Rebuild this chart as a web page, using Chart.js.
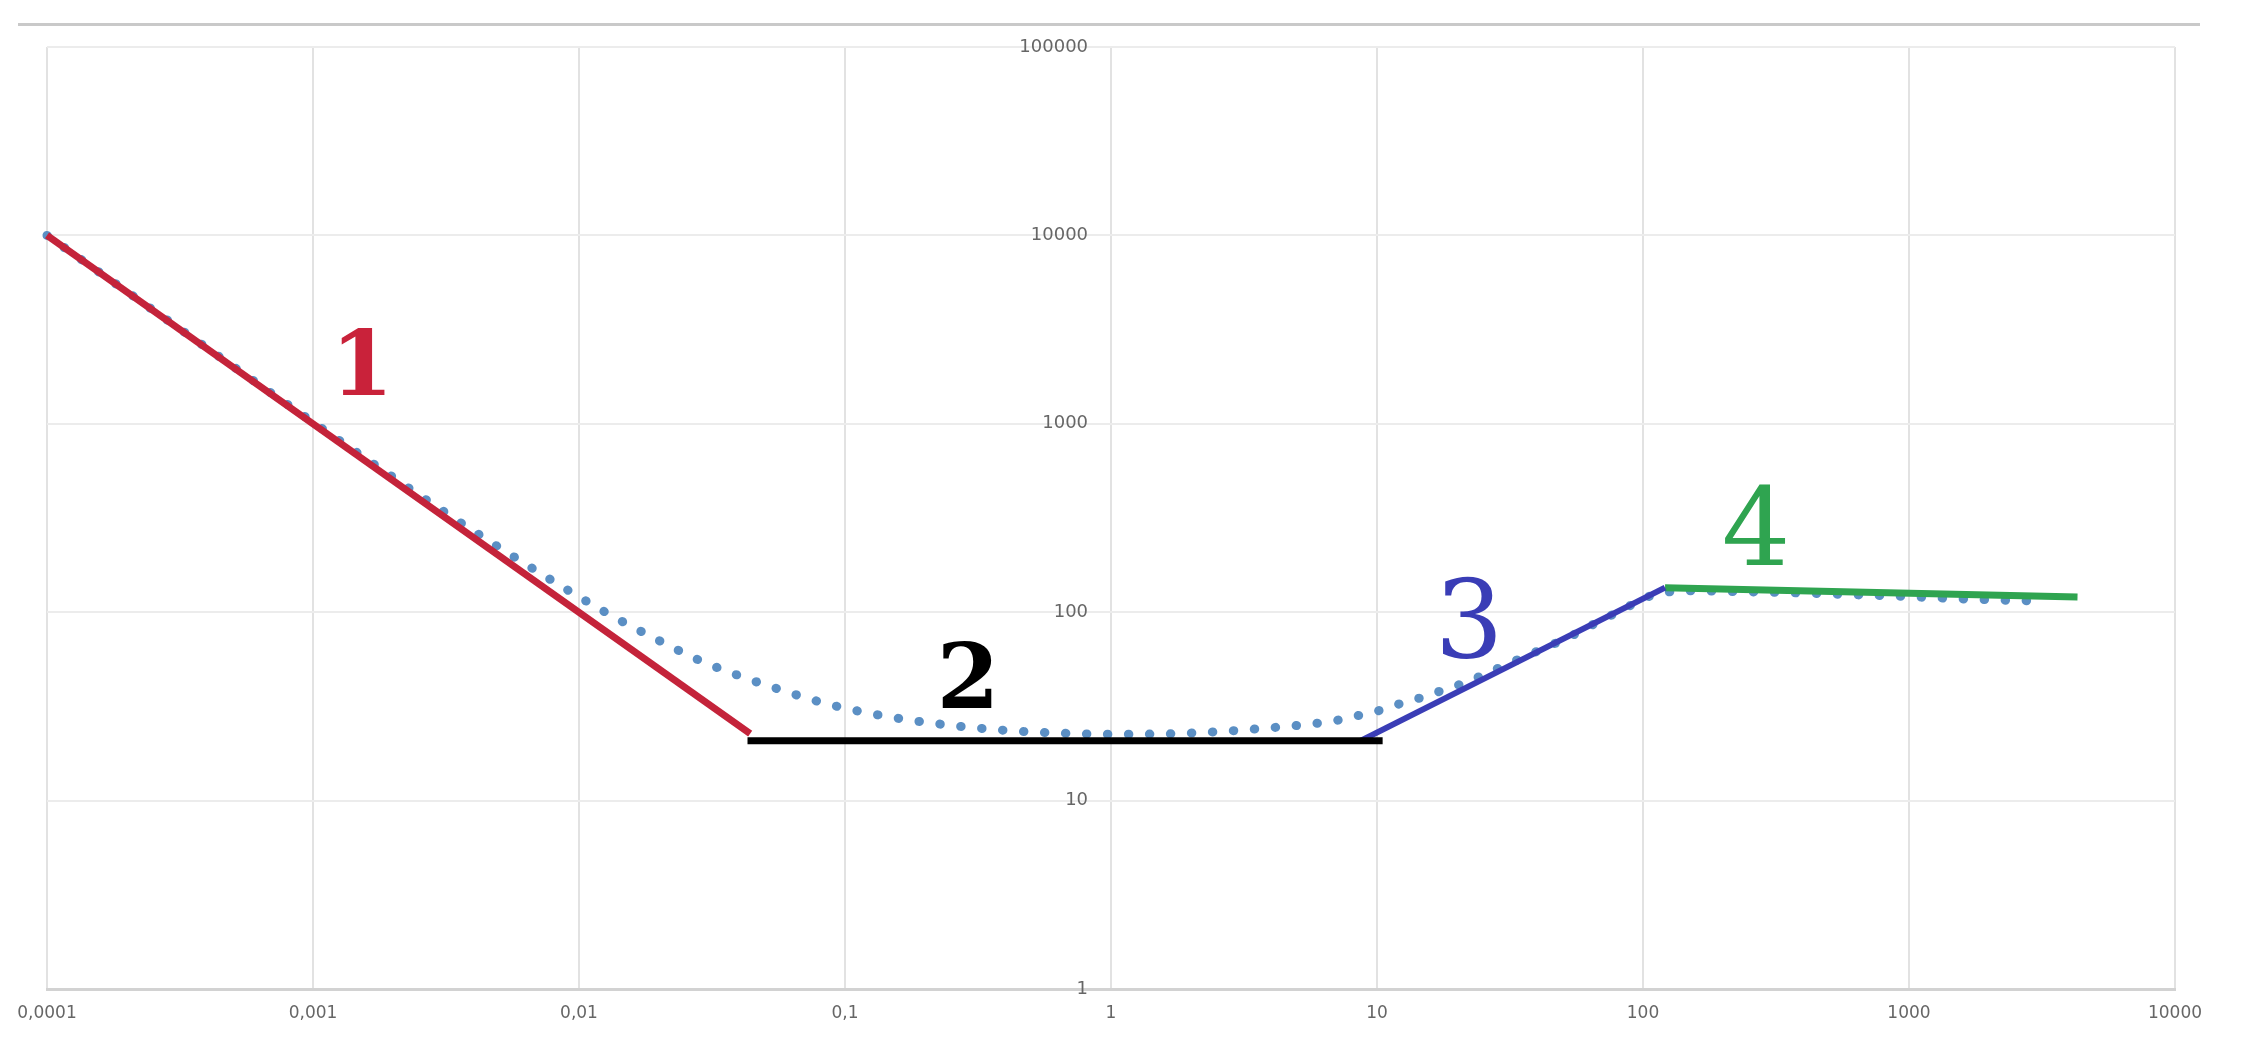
<!DOCTYPE html>
<html>
<head>
<meta charset="utf-8">
<script src="https://cdn.jsdelivr.net/npm/chart.js"></script>
<style>
  html, body { margin: 0; padding: 0; background: #ffffff; }
  #wrap { position: relative; width: 2255px; height: 1057px; }
  #rule { position: absolute; left: 18px; top: 23px; width: 2182px; height: 3px; background: #c9c9c9; }
  canvas { position: absolute; left: 0; top: 0; }
</style>
</head>
<body>
<div id="wrap">
  <canvas id="c" width="2255" height="1057"></canvas>
  <div id="rule"></div>
</div>
<script>
// ---- tick values and labels ----
const xTickValues = [0.0001, 0.001, 0.01, 0.1, 1, 10, 100, 1000, 10000];
const xTickLabels = ['0,0001', '0,001', '0,01', '0,1', '1', '10', '100', '1000', '10000'];
const yTickValues = [1, 10, 100, 1000, 10000, 100000];
const yTickLabels = ['1', '10', '100', '1000', '10000', '100000'];

// ---- series ----
const redX = [0.0001, 0.044];
const redY = [10000, 22.7];
const blackX = [0.043, 10.5];
const blackY = [20.8, 20.8];
const blueX = [8.7, 121];
const blueY = [20.8, 135];
const greenX = [121, 4300];
const greenY = [135, 120.5];
const dotX = [0.0001, 0.0002, 0.0005, 0.001, 0.002, 0.003, 0.0045, 0.0065, 0.0095, 0.0134, 0.0195, 0.028, 0.04, 0.058, 0.083, 0.12, 0.18, 0.27, 0.4, 0.6, 1, 1.6, 2.5, 3.5, 5.5, 7, 8, 9.75, 11.6, 13.9, 16.5, 19.8, 23.6, 30, 40, 55, 70, 85, 100, 120, 150, 200, 350, 600, 1000, 1500, 2200, 2900];
const dotY = [10000, 5020, 2020, 1020, 520, 353, 243, 175, 126, 95, 72, 56, 46, 38.5, 33, 29.3, 26.6, 24.8, 23.6, 22.9, 22.5, 22.6, 23.2, 24, 25.4, 26.6, 27.8, 29.5, 32, 34.4, 37.3, 40.6, 44.8, 52, 62, 76, 91, 104, 118, 127, 130, 129, 127, 124, 121, 118, 116, 115];

// ---- region labels ----
const regionLabels = ['1', '2', '3', '4'];

function pts(xs, ys) { return xs.map((x, i) => ({ x: x, y: ys[i] })); }

const labelStyle = [
  { x: 0.00153, y: 1422, color: '#c9223a', font: 'bold 90px "DejaVu Serif"' },
  { x: 0.29,    y: 31,   color: '#000000', font: 'bold 90px "DejaVu Serif"' },
  { x: 22.2,    y: 57.8, color: '#3a3db6', font: '108px "DejaVu Serif"' },
  { x: 266,     y: 178,  color: '#2fa450', font: '108px "DejaVu Serif"' }
];

const regionLabelPlugin = {
  id: 'regionLabels',
  afterDatasetsDraw(chart) {
    const ctx = chart.ctx;
    const xs = chart.scales.x, ys = chart.scales.y;
    ctx.save();
    ctx.textAlign = 'center';
    ctx.textBaseline = 'alphabetic';
    regionLabels.forEach((t, i) => {
      const s = labelStyle[i];
      ctx.font = s.font;
      ctx.fillStyle = s.color;
      ctx.fillText(t, xs.getPixelForValue(s.x), ys.getPixelForValue(s.y));
    });
    ctx.restore();
  }
};

const xTickFont = { family: '"DejaVu Sans"', size: 17 };
const yTickFont = { family: '"DejaVu Sans"', size: 18 };

new Chart(document.getElementById('c'), {
  type: 'line',
  data: {
    datasets: [
      { data: pts(dotX, dotY), borderColor: '#5b8fc4', borderWidth: 9, borderDash: [0.5, 20.5],
        borderCapStyle: 'round', cubicInterpolationMode: 'monotone', pointRadius: 0, order: 10, clip: false },
      { data: pts(redX, redY), borderColor: '#c4233a', borderWidth: 7, pointRadius: 0, order: 1, clip: false },
      { data: pts(blackX, blackY), borderColor: '#000000', borderWidth: 7, pointRadius: 0, order: 2, clip: false },
      { data: pts(blueX, blueY), borderColor: '#3a3db6', borderWidth: 6, pointRadius: 0, order: 3, clip: false },
      { data: pts(greenX, greenY), borderColor: '#2fa450', borderWidth: 7, pointRadius: 0, order: 4, clip: false }
    ]
  },
  options: {
    responsive: false,
    animation: false,
    events: [],
    layout: { padding: { left: 47, right: 80, top: 47, bottom: 0 } },
    plugins: { legend: { display: false }, tooltip: { enabled: false } },
    scales: {
      x: {
        type: 'logarithmic',
        position: 'bottom',
        min: 0.0001,
        max: 10000,
        afterBuildTicks: (s) => { s.ticks = xTickValues.map(v => ({ value: v })); },
        afterFit: (s) => { s.height = 68; },
        ticks: {
          autoSkip: false, maxRotation: 0, padding: 14, color: '#666666', font: xTickFont,
          callback: (v, i) => xTickLabels[i]
        },
        grid: { color: '#e2e2e2', lineWidth: 2, drawTicks: false },
        border: { display: true, color: '#d2d2d2', width: 3 }
      },
      y: {
        type: 'logarithmic',
        // labels sit just left of the x = 1 gridline
        position: { x: 0.82 },
        min: 1,
        max: 100000,
        afterBuildTicks: (s) => { s.ticks = yTickValues.map(v => ({ value: v })); },
        ticks: {
          autoSkip: false, padding: 0, color: '#666666', font: yTickFont,
          callback: (v, i) => yTickLabels[i]
        },
        grid: { color: '#ececec', lineWidth: 2, drawTicks: false },
        border: { display: false }
      }
    }
  },
  plugins: [regionLabelPlugin]
});
</script>
</body>
</html>
